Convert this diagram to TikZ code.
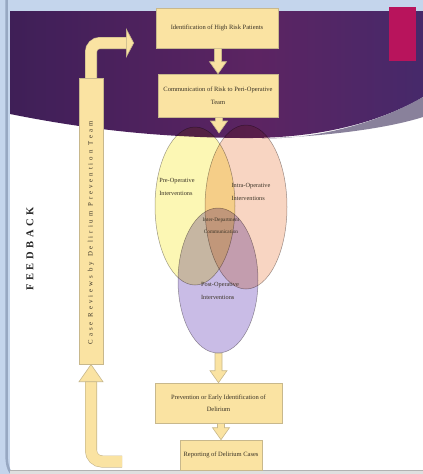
\documentclass[tikz,border=0pt]{standalone}
\usepackage{fontspec}
\setmainfont{Liberation Serif}
\newfontfamily\casefont[LetterSpace=44]{Liberation Serif}
\newfontfamily\fbfont[LetterSpace=34]{Liberation Serif}
\usetikzlibrary{shapes.geometric,calc,arrows.meta}

\definecolor{frameblue}{HTML}{C4D5EC}
\definecolor{frameline}{HTML}{97A8C2}
\definecolor{bandL}{HTML}{2C1B45}
\definecolor{bandA}{HTML}{43205A}
\definecolor{bandM}{HTML}{5C2462}
\definecolor{bandB}{HTML}{46296A}
\definecolor{bandR}{HTML}{2A2249}
\definecolor{bandlight}{HTML}{6C6283}
\definecolor{accent}{HTML}{B8145C}
\definecolor{boxfill}{HTML}{FAE3A2}
\definecolor{boxline}{HTML}{C8B88C}
\definecolor{boxtext}{HTML}{3A3326}
\definecolor{vennyellow}{HTML}{FCF7B4}
\definecolor{vennpink}{HTML}{F8D5C2}
\definecolor{vennlilac}{HTML}{C9BCE6}
\definecolor{vennline}{HTML}{A09C9C}

\pgfdeclarehorizontalshading{bandshade}{100bp}{color(0bp)=(bandL); color(30bp)=(bandA); color(55bp)=(bandM); color(75bp)=(bandB); color(100bp)=(bandR)}

\tikzset{
  stepbox/.style={draw=boxline, fill=boxfill, line width=0.6pt, inner sep=1pt,
    align=center, text=boxtext, font=\fontsize{6.5}{12.5}\selectfont},
  venn/.style={ellipse, draw=vennline, line width=0.5pt, inner sep=0pt},
  vennlabel/.style={inner sep=0pt, align=left, text=boxtext, font=\fontsize{6.3}{12.5}\selectfont},
  barrow/.style={draw=boxline, fill=boxfill, line width=0.6pt},
}

% block arrow from a box to the box below it
\newcommand{\blockarrow}[2]{%
  \draw[barrow] let \p1=(#1), \p2=(#2) in
    (\x2-3.5pt,\y1) -- (\x2-3.5pt,\y2+12pt) -- (\x2-8.5pt,\y2+12pt) -- (\x2,\y2)
    -- (\x2+8.5pt,\y2+12pt) -- (\x2+3.5pt,\y2+12pt) -- (\x2+3.5pt,\y1) -- cycle;}

\begin{document}
\begin{tikzpicture}[x=1pt,y=-1pt]
    \useasboundingbox (0,0) rectangle (423,474);
    %slide frame
    \fill[frameblue] (0,0) rectangle (423,474);
    \fill[white] (10,11) rectangle (423,470);
    \draw[frameline, line width=2.5pt] (6.5,0) -- (6.5,452) .. controls (6.5,464) and (8,469) .. (11,473);
    \fill[gray!25] (10,470) rectangle (423,474);
    \draw[gray!60, line width=0.8pt] (10,470) -- (423,470);
    %purple band with accent bar
    \shade[shading=bandshade] (10,11) -- (423,11) -- (423,97) .. controls (380,122) and (320,139) .. (240,138)
        .. controls (150,137) and (80,128) .. (10,114) -- cycle;
    \fill[bandlight, opacity=0.8] (423,97) .. controls (380,122) and (320,139) .. (262,138.5)
        .. controls (335,136) and (392,127) .. (423,117) -- cycle;
    \fill[accent] (389,7) rectangle (416,61);

    %venn diagram of the interventions
    \begin{scope}[blend mode=multiply]
        \node[venn, fill=vennyellow, minimum width=80, minimum height=158] (pre) at (195,206) {};
        \node[venn, fill=vennpink, minimum width=82, minimum height=164] (intra) at (246,207) {};
        \node[venn, fill=vennlilac, minimum width=80, minimum height=145] (post) at (218,280.5) {};
    \end{scope}
    \node[vennlabel] (prelbl) at (177,187) {Pre-Operative\\Interventions};
    \node[vennlabel] (intralbl) at (251,192) {Intra-Operative\\Interventions};
    \node[vennlabel, align=center, font=\fontsize{5.3}{12}\selectfont] (interlbl) at (221,226) {Inter-Department\\Communication};
    \node[vennlabel] (postlbl) at (220,291) {Post-Operative\\Interventions};
    \coordinate (venntop) at (219,133);

    %feedback loop arrows
    \coordinate (fbtip) at (134,43);
    \coordinate (fbfoot) at (122,461.5);
    \draw[line width=12pt, boxline, rounded corners=9pt, shorten >=7pt] (91,221) |- (fbtip);
    \draw[line width=10.8pt, boxfill, rounded corners=9pt,
        -{Triangle[length=8pt,width=30pt,line width=0.6pt,color=boxline,fill=boxfill]}] (91,221) |- (fbtip);
    \draw[line width=12pt, boxline, rounded corners=11pt, shorten >=17pt] (fbfoot) -| (91,364);
    \draw[line width=10.8pt, boxfill, rounded corners=11pt,
        -{Triangle[length=18pt,width=25pt,line width=0.6pt,color=boxline,fill=boxfill]}] (fbfoot) -| (91,364);

    %main flow
    \node[stepbox, minimum width=122, minimum height=40] (ident) at (217,28) {Identification of High Risk Patients};
    \node[stepbox, minimum width=120, minimum height=43] (comm) at (218,95.5) {Communication of Risk to Peri-Operative\\Team};
    \node[stepbox, minimum width=127, minimum height=40] (prevent) at (218.5,403) {Prevention or Early Identification of\\Delirium};
    \node[stepbox, minimum width=82, minimum height=30] (report) at (221,455) {Reporting of Delirium Cases};
    \node[stepbox, minimum width=286, minimum height=24, rotate=90] (case) at (91,221)
        {\casefont\fontsize{6.8}{8}\selectfont Case Reviews by Delirium Prevention Team\hspace*{24pt}};
    \blockarrow{ident.south}{comm.north}
    \blockarrow{comm.south}{venntop}
    \blockarrow{post.south}{prevent.north}
    \blockarrow{prevent.south}{report.north}

    % label of the loop
    \node[rotate=90, text=black!85, font=\fbfont\bfseries\fontsize{10.5}{12}\selectfont] (fblabel) at (30,249) {FEEDBACK};
\end{tikzpicture}
\end{document}
